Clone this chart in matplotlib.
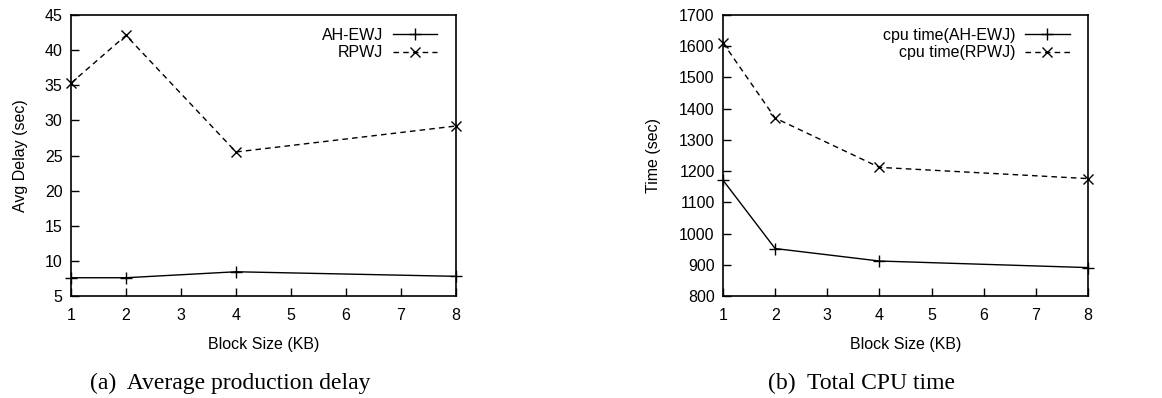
import matplotlib
matplotlib.use("Agg")
import matplotlib.pyplot as plt

plt.rcParams['font.family'] = ['Liberation Sans', 'DejaVu Sans']

block_size = [1, 2, 4, 8]
delay_ahewj = [7.6, 7.6, 8.45, 7.8]
delay_rpwj = [35.3, 42.1, 25.5, 29.2]
cpu_ahewj = [1171, 952, 912, 891]
cpu_rpwj = [1611, 1370, 1212, 1176]

x_ticks = [1, 2, 3, 4, 5, 6, 7, 8]
delay_yticks = [5, 10, 15, 20, 25, 30, 35, 40, 45]
cpu_yticks = [800, 900, 1000, 1100, 1200, 1300, 1400, 1500, 1600, 1700]

FS = 11.5
dash = (0, (4, 3))

fig = plt.figure(figsize=(11.62, 3.98), dpi=100)
ax1 = fig.add_axes([71/1162, 1-296/398, 385/1162, 281/398])
ax2 = fig.add_axes([723/1162, 1-296/398, 365/1162, 281/398])

def style(ax, yticks, ylabel, ylpad):
    ax.set_xlim(1, 8)
    ax.set_ylim(yticks[0], yticks[-1])
    ax.set_xticks(x_ticks)
    ax.set_yticks(yticks)
    ax.tick_params(direction='in', length=6, width=1, labelsize=FS, top=False, right=False)
    ax.tick_params(axis='x', pad=9)
    ax.tick_params(axis='y', pad=6)
    for s in ax.spines.values():
        s.set_linewidth(1.2)
    ax.set_xlabel('Block Size (KB)', fontsize=FS, labelpad=10)
    ax.set_ylabel(ylabel, fontsize=FS, labelpad=ylpad)

ax1.plot(block_size, delay_ahewj, color='black', lw=1, marker='+', ms=8, mew=1, clip_on=False, label='AH-EWJ')
ax1.plot(block_size, delay_rpwj, color='black', lw=1, ls=dash, marker='x', ms=7, mew=1, clip_on=False, label='RPWJ')
style(ax1, delay_yticks, 'Avg Delay (sec)', 12)

ax2.plot(block_size, cpu_ahewj, color='black', lw=1, marker='+', ms=8, mew=1, clip_on=False, label='cpu time(AH-EWJ)')
ax2.plot(block_size, cpu_rpwj, color='black', lw=1, ls=dash, marker='x', ms=7, mew=1, clip_on=False, label='cpu time(RPWJ)')
style(ax2, cpu_yticks, 'Time (sec)', 13)

for ax in (ax1, ax2):
    ax.legend(loc='upper right', frameon=False, markerfirst=False, fontsize=FS,
              handlelength=2.8, handletextpad=0.6, labelspacing=0.15,
              borderaxespad=0.4, bbox_to_anchor=(0.985, 1.0))

fig.text(230/1162, 1-383/398, '(a)  Average production delay', family=['Liberation Serif'],
         fontsize=17, ha='center', va='center')
fig.text(862/1162, 1-383/398, '(b)  Total CPU time', family=['Liberation Serif'],
         fontsize=17, ha='center', va='center')

fig.savefig('out.png', dpi=100)
